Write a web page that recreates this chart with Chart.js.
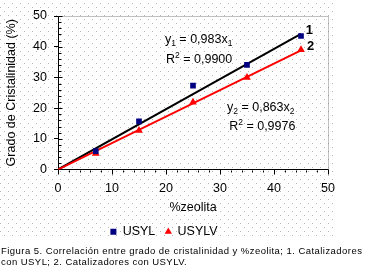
<!DOCTYPE html>
<html lang="es">
<head>
    <meta charset="UTF-8">
    <title>Grado de cristalinidad vs %zeolita</title>
    <style>
        html, body {
            margin: 0;
            padding: 0;
            background-color: #fff;
        }

        #wrap {
            position: relative;
            width: 365px;
            height: 269px;
        }

        #chart {
            position: absolute;
            left: 0;
            top: 0;
        }

        #caption {
            position: absolute;
            left: 1px;
            top: 245px;
            font: 9.5px "Liberation Sans", Arial, sans-serif;
            letter-spacing: 0.45px;
            line-height: 11px;
            color: #000;
            white-space: nowrap;
        }
    </style>
    <script src="https://cdn.jsdelivr.net/npm/chart.js"></script>
</head>
<body>
    <div id="wrap">
        <canvas id="chart" width="365" height="269"></canvas>
        <div id="caption">Figura 5. Correlación entre grado de cristalinidad y %zeolita; 1. Catalizadores<br>con USYL; 2. Catalizadores con USYLV.</div>
    </div>

    <script>
        // datos
        const zeolita = [7, 15, 25, 35, 45];
        const usyl = [6.0, 15.7, 27.3, 34.1, 43.5];
        const usylv = [5.2, 12.7, 21.9, 30.0, 39.0];

        // rectas de ajuste y1 = 0,983x1 ; y2 = 0,863x2
        const trendX = [0, 45];
        const trendUsyl = [0, 44.2];
        const trendUsylv = [0, 38.8];

        const FONT = '"Liberation Sans", Arial, sans-serif';

        function pts(xs, ys) {
            return xs.map((x, i) => ({ x: x, y: ys[i] }));
        }

        // textos de las ecuaciones (posicion en unidades de datos)
        const notes = [
            { x: 19.8, y: 41.1, parts: [['y'], ['1', 'sub'], [' = 0,983x'], ['1', 'sub']] },
            { x: 20.0, y: 34.6, parts: [['R'], ['2', 'sup'], [' = 0,9900']] },
            { x: 31.3, y: 19.0, parts: [['y'], ['2', 'sub'], [' = 0,863x'], ['2', 'sub']] },
            { x: 31.7, y: 12.8, parts: [['R'], ['2', 'sup'], [' = 0,9976']] },
            { x: 45.9, y: 44.0, parts: [['1', 'bold']] },
            { x: 46.1, y: 38.8, parts: [['2', 'bold']] }
        ];

        const dotsBg = {
            id: 'dotsBg',
            beforeDraw(chart) {
                const ctx = chart.ctx;
                ctx.save();
                ctx.fillStyle = '#fff';
                ctx.fillRect(0, 0, chart.width, chart.height);
                ctx.fillStyle = '#b4b4b4';
                for (let y = 3; y < 238; y += 4) {
                    const off = (y % 8 === 3) ? 4 : 0;
                    for (let x = off; x < 334; x += 8) {
                        ctx.fillRect(x, y, 1, 1);
                    }
                }
                ctx.restore();
            }
        };

        const axisExtras = {
            id: 'axisExtras',
            afterDraw(chart) {
                const ctx = chart.ctx;
                const a = chart.chartArea;
                const xs = chart.scales.x, ys = chart.scales.y;
                const L = Math.round(a.left) + 0.5, B = Math.round(a.bottom) + 0.5;
                const T = Math.round(a.top) + 0.5, R = Math.round(a.right) + 0.5;
                ctx.save();
                // borde superior y derecho punteado
                ctx.strokeStyle = '#808080';
                ctx.lineWidth = 1;
                ctx.setLineDash([1, 1]);
                ctx.beginPath();
                ctx.moveTo(L, T);
                ctx.lineTo(R, T);
                ctx.lineTo(R, B);
                ctx.stroke();
                ctx.setLineDash([]);
                ctx.strokeStyle = '#000';
                ctx.beginPath();
                for (let v = 2; v <= 50; v += 2) {
                    const py = Math.round(ys.getPixelForValue(v)) + 0.5;
                    ctx.moveTo(L, py);
                    ctx.lineTo(L + (v % 10 === 0 ? 4 : 3), py);
                    if (v % 10 !== 0) {
                        const px = Math.round(xs.getPixelForValue(v)) + 0.5;
                        ctx.moveTo(px, B);
                        ctx.lineTo(px, B + 2);
                    }
                }
                ctx.stroke();
                ctx.restore();
            }
        };

        const eqLabels = {
            id: 'eqLabels',
            afterDraw(chart) {
                const ctx = chart.ctx;
                const xs = chart.scales.x, ys = chart.scales.y;
                ctx.save();
                ctx.fillStyle = '#000';
                ctx.textBaseline = 'alphabetic';
                ctx.textAlign = 'left';
                notes.forEach(n => {
                    let px = xs.getPixelForValue(n.x);
                    const py = ys.getPixelForValue(n.y);
                    n.parts.forEach(([t, kind]) => {
                        let dy = 0;
                        if (kind === 'sub') { ctx.font = '8.5px ' + FONT; dy = 3; }
                        else if (kind === 'sup') { ctx.font = '8.5px ' + FONT; dy = -5; }
                        else if (kind === 'bold') { ctx.font = 'bold 13px ' + FONT; }
                        else { ctx.font = '12.5px ' + FONT; }
                        ctx.fillText(t, px, py + dy);
                        px += ctx.measureText(t).width;
                    });
                });
                ctx.restore();
            }
        };

        const tickFont = { family: FONT, size: 12.5 };

        new Chart(document.getElementById('chart'), {
            type: 'scatter',
            data: {
                datasets: [
                    {
                        label: 'USYL',
                        data: pts(zeolita, usyl),
                        pointStyle: 'rect',
                        pointRadius: 4,
                        backgroundColor: '#000080',
                        borderColor: '#000080',
                        borderWidth: 0
                    },
                    {
                        label: 'USYLV',
                        data: pts(zeolita, usylv),
                        pointStyle: 'triangle',
                        pointRadius: 4.5,
                        backgroundColor: '#ff0000',
                        borderColor: '#ff0000',
                        borderWidth: 0
                    },
                    {
                        label: 'ajuste 2',
                        data: pts(trendX, trendUsylv),
                        showLine: true,
                        borderColor: '#ff0000',
                        borderWidth: 2,
                        pointRadius: 0
                    },
                    {
                        label: 'ajuste 1',
                        data: pts(trendX, trendUsyl),
                        showLine: true,
                        borderColor: '#000000',
                        borderWidth: 2,
                        pointRadius: 0
                    }
                ]
            },
            options: {
                responsive: false,
                animation: false,
                devicePixelRatio: 1,
                layout: { padding: { left: 0, top: 16, right: 37, bottom: 21 } },
                plugins: {
                    tooltip: { enabled: false },
                    legend: {
                        position: 'bottom',
                        labels: {
                            usePointStyle: true,
                            boxWidth: 6,
                            boxHeight: 6,
                            padding: 10,
                            color: '#000',
                            font: tickFont,
                            filter: item => item.datasetIndex < 2
                        }
                    }
                },
                scales: {
                    x: {
                        type: 'linear',
                        min: 0,
                        max: 50,
                        ticks: { stepSize: 10, color: '#000', font: tickFont, padding: 7, maxRotation: 0 },
                        grid: { drawOnChartArea: false, tickLength: 5, color: '#000' },
                        border: { color: '#000', width: 1 },
                        title: { display: true, text: '%zeolita', color: '#000', font: tickFont, padding: { top: 2, bottom: 0 } },
                        afterFit(s) { s.height = 46; }
                    },
                    y: {
                        min: 0,
                        max: 50,
                        ticks: { stepSize: 10, color: '#000', font: tickFont, padding: 7 },
                        grid: { drawOnChartArea: false, tickLength: 4, color: '#000' },
                        border: { color: '#000', width: 1 },
                        title: { display: true, text: 'Grado de Cristalinidad (%)', color: '#000', font: tickFont, padding: { top: 4, bottom: 0 } },
                        afterFit(s) { s.width = 58; }
                    }
                }
            },
            plugins: [dotsBg, axisExtras, eqLabels]
        });
    </script>
</body>
</html>
